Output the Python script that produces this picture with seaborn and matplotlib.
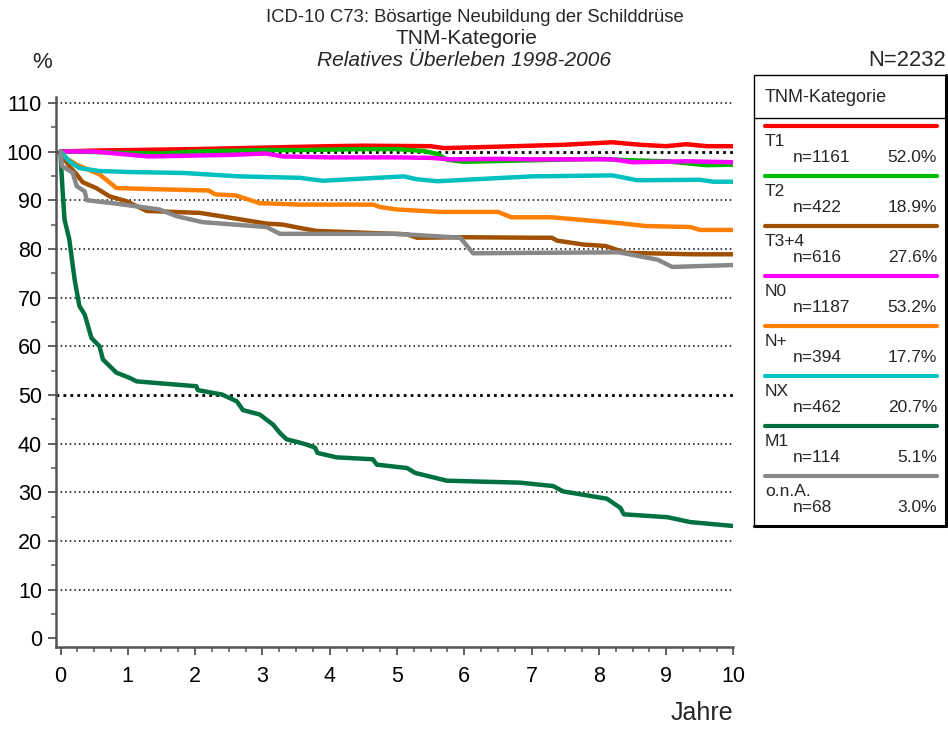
import numpy as np
import pandas as pd
import matplotlib
matplotlib.use("Agg")
import matplotlib.pyplot as plt
from matplotlib.lines import Line2D
from matplotlib.patches import Rectangle
from matplotlib.ticker import MultipleLocator
import seaborn as sns

# ---------------- data ----------------
categories = ["T1", "T2", "T3+4", "N0", "N+", "NX", "M1", "o.n.A."]
n_values = ["n=1161", "n=422", "n=616", "n=1187", "n=394", "n=462", "n=114", "n=68"]
pct_values = ["52.0%", "18.9%", "27.6%", "53.2%", "17.7%", "20.7%", "5.1%", "3.0%"]
colors = ["#ff0000", "#00bb00", "#a05000", "#ff00ff", "#ff8000", "#00c0c0", "#007040", "#888888"]

t1_x = [0, 0.5, 1, 2, 3, 4, 4.5, 5.5, 5.7, 6.5, 7.5, 8.2, 8.6, 9.0, 9.3, 9.6, 10]
t1_y = [100, 100.2, 100.3, 100.5, 100.8, 101.1, 101.2, 101.1, 100.7, 101.0, 101.4, 101.9, 101.4, 101.1, 101.5, 101.1, 101.1]

t2_x = [0, 0.5, 1.0, 1.5, 2, 3, 3.5, 4, 4.5, 5.0, 5.4, 5.6, 5.75, 6.0, 7.0, 8.0, 8.5, 9.0, 9.3, 9.6, 10]
t2_y = [100, 99.9, 99.7, 99.6, 100.0, 100.3, 100.3, 100.4, 100.5, 100.5, 100.1, 99.5, 98.3, 97.9, 98.2, 98.5, 98.2, 98.0, 97.6, 97.2, 97.3]

t34_x = [0, 0.03, 0.13, 0.24, 0.33, 0.53, 0.73, 0.98, 1.28, 2.07, 2.3, 2.66, 3.06, 3.3, 3.56, 3.8, 5.15, 5.3, 6.0, 7.0, 7.3, 7.38, 7.77, 8.1, 8.4, 9.4, 10]
t34_y = [100, 99, 97, 95.3, 93.7, 92.5, 90.8, 89.8, 87.8, 87.4, 86.9, 86.1, 85.2, 85.0, 84.3, 83.7, 83.0, 82.3, 82.4, 82.3, 82.3, 81.7, 80.9, 80.6, 79.2, 78.9, 78.9]

n0_x = [0, 0.5, 0.9, 1.3, 2.5, 3.05, 3.3, 4.0, 5.0, 5.5, 5.8, 6.5, 7.0, 8.2, 8.5, 9.3, 10]
n0_y = [100, 100, 99.5, 99.0, 99.3, 99.6, 99.0, 98.8, 98.8, 98.7, 98.4, 98.5, 98.4, 98.4, 97.8, 98.0, 97.8]

np_x = [0, 0.1, 0.24, 0.58, 0.77, 0.83, 1.32, 2.2, 2.3, 2.6, 2.96, 3.56, 4.65, 4.75, 5.0, 5.64, 6.5, 6.7, 7.3, 8.3, 8.7, 9.36, 9.5, 10]
np_y = [100, 98.5, 97.3, 95.3, 93.2, 92.5, 92.3, 92.0, 91.2, 91.0, 89.4, 89.1, 89.1, 88.6, 88.1, 87.6, 87.6, 86.5, 86.5, 85.3, 84.7, 84.5, 83.9, 83.9]

nx_x = [0, 0.13, 0.28, 0.58, 1.0, 1.82, 2.66, 3.56, 3.9, 5.1, 5.3, 5.6, 7.0, 8.2, 8.57, 9.5, 9.7, 10]
nx_y = [100, 98.0, 96.6, 96.0, 95.8, 95.6, 94.9, 94.6, 94.0, 94.9, 94.3, 93.9, 94.9, 95.1, 94.1, 94.2, 93.8, 93.8]

m1_x = [0, 0.01, 0.03, 0.06, 0.13, 0.21, 0.28, 0.36, 0.46, 0.58, 0.63, 0.83, 1.03, 1.13, 2.02, 2.04, 2.4,
        2.62, 2.71, 2.96, 3.16, 3.26, 3.36, 3.56, 3.66, 3.78, 3.82, 4.1, 4.64, 4.7, 5.15, 5.27, 5.74,
        6.83, 7.32, 7.47, 8.12, 8.32, 8.37, 9.02, 9.36, 10]
m1_y = [100, 97, 92.2, 86, 82, 73.7, 68.3, 66.5, 61.7, 60.0, 57.3, 54.6, 53.5, 52.8, 51.8, 51.0, 50.1,
        48.7, 46.9, 46.0, 43.9, 42.2, 40.9, 40.2, 39.8, 39.2, 38.1, 37.2, 36.8, 35.7, 35.0, 34.0, 32.4,
        32.0, 31.3, 30.2, 28.7, 26.8, 25.5, 24.9, 23.9, 23.1]

ona_x = [0, 0.02, 0.18, 0.24, 0.36, 0.39, 0.83, 1.47, 1.73, 2.11, 3.06, 3.26, 5.0, 5.94, 6.13, 7.0, 8.3, 8.87, 9.09, 10]
ona_y = [100, 97, 95.7, 92.9, 91.8, 90.0, 89.3, 88.1, 86.7, 85.5, 84.5, 83.1, 83.1, 82.3, 79.1, 79.2, 79.3, 77.8, 76.3, 76.7]

y_ticks = [0, 10, 20, 30, 40, 50, 60, 70, 80, 90, 100, 110]
x_ticks = [0, 1, 2, 3, 4, 5, 6, 7, 8, 9, 10]

series_x = [t1_x, t2_x, t34_x, n0_x, np_x, nx_x, m1_x, ona_x]
series_y = [t1_y, t2_y, t34_y, n0_y, np_y, nx_y, m1_y, ona_y]

frames = []
for cat, xs, ys in zip(categories, series_x, series_y):
    frames.append(pd.DataFrame({"Jahre": xs, "Wert": ys, "Kategorie": cat}))
df = pd.concat(frames, ignore_index=True)

# ---------------- style ----------------
sns.set_theme(style="white")
plt.rcParams["font.family"] = ["Liberation Sans", "DejaVu Sans"]

W, H = 948, 729
fig = plt.figure(figsize=(W / 100, H / 100), dpi=100)

def fx(px):
    return px / W

def fy(py):
    return 1 - py / H

ax_l, ax_r, ax_t, ax_b = 56, 733.5, 97, 647
ax = fig.add_axes([fx(ax_l), fy(ax_b), fx(ax_r) - fx(ax_l), fy(ax_t) - fy(ax_b)])

# gridlines
for v in y_ticks:
    if v == 0:
        continue
    lw = 2.0 if v in (50, 100) else 1.1
    ax.axhline(v, color="black", linestyle=(0, (1, 2)) if v not in (50, 100) else (0, (1, 1.5)),
               linewidth=lw, zorder=1)

palette = dict(zip(categories, colors))
sns.lineplot(data=df, x="Jahre", y="Wert", hue="Kategorie", hue_order=categories,
             palette=palette, estimator=None, sort=False, linewidth=3.2,
             legend=False, ax=ax, zorder=3)

ax.set_xlim(-0.067, 10.0)
ax.set_ylim(-1.75, 111.2)
ax.set_xticks(x_ticks)
ax.set_yticks(y_ticks)
ax.xaxis.set_minor_locator(MultipleLocator(0.25))
ax.yaxis.set_minor_locator(MultipleLocator(5))
ax.set_xticklabels([str(v) for v in x_ticks], fontsize=15.5)
ax.set_yticklabels([str(v) for v in y_ticks], fontsize=15.5)
spine_col = "#555555"
ax.tick_params(axis="both", which="major", direction="out", length=6, width=1.3,
               color=spine_col, labelcolor="black", bottom=True, left=True)
ax.tick_params(axis="both", which="minor", direction="out", length=3.5, width=1.1,
               color=spine_col, bottom=True, left=True)
ax.tick_params(axis="x", which="major", pad=8)
ax.tick_params(axis="y", which="major", pad=4)
for s in ["top", "right"]:
    ax.spines[s].set_visible(False)
for s in ["left", "bottom"]:
    ax.spines[s].set_color(spine_col)
    ax.spines[s].set_linewidth(1.8)
ax.set_xlabel("")
ax.set_ylabel("")
ax.grid(False)

# ---------------- texts ----------------
fig.text(fx(475), fy(18), "ICD-10 C73: Bösartige Neubildung der Schilddrüse", ha="center", va="center", fontsize=13.3)
fig.text(fx(466), fy(38), "TNM-Kategorie", ha="center", va="center", fontsize=15)
fig.text(fx(464), fy(60), "Relatives Überleben 1998-2006", ha="center", va="center", fontsize=15, style="italic")
fig.text(fx(42), fy(62), "%", ha="center", va="center", fontsize=16)
fig.text(fx(946), fy(61), "N=2232", ha="right", va="center", fontsize=15.8)
fig.text(fx(733), fy(713), "Jahre", ha="right", va="center", fontsize=18)

# ---------------- legend ----------------
lx0, lx1, ly0, ly1 = 754, 946, 75, 526
fig.patches.append(Rectangle((fx(lx0), fy(ly1)), fx(lx1) - fx(lx0), fy(ly0) - fy(ly1),
                             transform=fig.transFigure, fill=False, edgecolor="black", linewidth=1.0))
fig.lines.append(Line2D([fx(lx0), fx(lx1)], [fy(ly1), fy(ly1)], transform=fig.transFigure, color="black", linewidth=2.2))
fig.lines.append(Line2D([fx(lx1), fx(lx1)], [fy(ly0), fy(ly1)], transform=fig.transFigure, color="black", linewidth=2.2))
fig.lines.append(Line2D([fx(lx0), fx(lx1)], [fy(118), fy(118)], transform=fig.transFigure, color="black", linewidth=1.0))
fig.text(fx(765), fy(97), "TNM-Kategorie", ha="left", va="center", fontsize=13)

for i, (cat, nv, pv, col) in enumerate(zip(categories, n_values, pct_values, colors)):
    yl = 126 + 50 * i
    fig.lines.append(Line2D([fx(765), fx(937)], [fy(yl), fy(yl)], transform=fig.transFigure,
                            color=col, linewidth=3.0))
    fig.text(fx(765), fy(yl + 15), cat, ha="left", va="center", fontsize=12.5)
    fig.text(fx(793), fy(yl + 31), nv, ha="left", va="center", fontsize=12.5)
    fig.text(fx(937), fy(yl + 31), pv, ha="right", va="center", fontsize=12.5)

fig.savefig("out.png", dpi=100)
